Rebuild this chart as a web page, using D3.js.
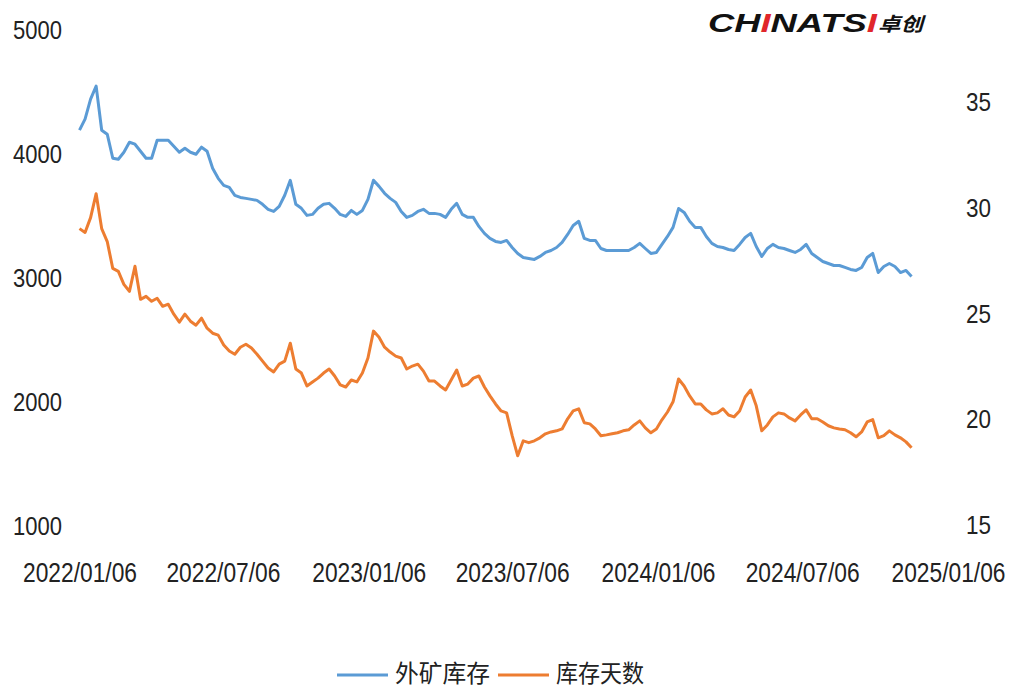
<!DOCTYPE html>
<html>
<head>
<meta charset="utf-8">
<script src="https://cdn.jsdelivr.net/npm/d3@7"></script>
<style>
  body { margin: 0; background: #fff; }
  svg { display: block; }
  .axis text { font-family: "Liberation Sans Narrow", "Arial Narrow", "Liberation Sans", sans-serif; fill: #222; }
</style>
</head>
<body>
<div id="chart"></div>
<script>
// weekly series, first week 2022/01/06
const startDate = new Date(2022, 0, 6);

const oreStock = [
  4192, 4281, 4442, 4547, 4192, 4160, 3966, 3958, 4014, 4095,
  4079, 4022, 3966, 3966, 4111, 4111, 4111, 4063, 4014, 4046,
  4014, 3998, 4055, 4022, 3885, 3804, 3747, 3731, 3667, 3650,
  3642, 3634, 3626, 3594, 3554, 3537, 3578, 3667, 3788, 3594,
  3562, 3505, 3513, 3562, 3594, 3602, 3562, 3513, 3497, 3545,
  3513, 3545, 3634, 3788, 3739, 3683, 3642, 3610, 3537, 3489,
  3505, 3537, 3554, 3521, 3521, 3513, 3489, 3554, 3602, 3513,
  3489, 3489, 3416, 3360, 3319, 3295, 3287, 3303, 3246, 3198,
  3166, 3158, 3150, 3174, 3206, 3222, 3246, 3287, 3351, 3424,
  3457, 3319, 3303, 3303, 3238, 3222, 3222, 3222, 3222, 3222,
  3246, 3279, 3238, 3198, 3206, 3271, 3335, 3408, 3560, 3529,
  3457, 3408, 3408, 3335, 3279, 3254, 3246, 3230, 3222, 3271,
  3327, 3360, 3254, 3174, 3238, 3271, 3246, 3238, 3222, 3206,
  3230, 3271, 3198, 3166, 3133, 3117, 3101, 3101, 3085, 3069,
  3061, 3085, 3166, 3198, 3044, 3093, 3117, 3093, 3044, 3061,
  3012
];

const stockDays = [
  29.02, 28.84, 29.54, 30.67, 29.02, 28.41, 27.14, 27.0, 26.39, 26.06,
  27.24, 25.68, 25.82, 25.59, 25.73, 25.35, 25.45, 24.98, 24.6, 24.98,
  24.65, 24.46, 24.79, 24.32, 24.08, 23.99, 23.52, 23.24, 23.09, 23.42,
  23.56, 23.38, 23.09, 22.76, 22.44, 22.25, 22.62, 22.76, 23.61, 22.39,
  22.2, 21.59, 21.78, 21.96, 22.2, 22.39, 22.06, 21.64, 21.54, 21.87,
  21.78, 22.2, 22.91, 24.18, 23.89, 23.42, 23.19, 23.0, 22.91, 22.39,
  22.53, 22.62, 22.29, 21.82, 21.82, 21.59, 21.4, 21.87, 22.34, 21.59,
  21.68, 21.96, 22.06, 21.54, 21.12, 20.74, 20.41, 20.32, 19.24, 18.29,
  19.0, 18.91, 19.0, 19.14, 19.33, 19.42, 19.47, 19.56, 20.04, 20.41,
  20.51, 19.85, 19.8, 19.56, 19.24, 19.28, 19.33, 19.38, 19.47, 19.52,
  19.75, 19.94, 19.61, 19.38, 19.56, 19.99, 20.36, 20.84, 21.92, 21.59,
  21.12, 20.74, 20.74, 20.46, 20.27, 20.32, 20.51, 20.22, 20.13, 20.41,
  21.07, 21.4, 20.65, 19.47, 19.75, 20.13, 20.32, 20.27, 20.08, 19.94,
  20.22, 20.46, 20.04, 20.04, 19.89, 19.71, 19.61, 19.56, 19.52, 19.38,
  19.19, 19.42, 19.89, 20.0, 19.14, 19.24, 19.47, 19.28, 19.14, 18.95,
  18.67
];

const weeks = oreStock.map((_, i) => d3.timeDay.offset(startDate, 7 * i));

const xTicks = ["2022/01/06", "2022/07/06", "2023/01/06", "2023/07/06",
  "2024/01/06", "2024/07/06", "2025/01/06"];
const leftTicks = [1000, 2000, 3000, 4000, 5000];
const rightTicks = [15, 20, 25, 30, 35];
const seriesNames = ["外矿库存", "库存天数"];
const colors = ["#5b9bd5", "#ed7d31"];

const width = 1011;
const height = 692;

const svg = d3.select("#chart")
  .append("svg")
  .attr("width", width)
  .attr("height", height);

const parseTick = d3.timeParse("%Y/%m/%d");

// scales
const x = d3.scaleTime()
  .domain([parseTick(xTicks[0]), parseTick(xTicks[xTicks.length - 1])])
  .range([79.5, 948]);

const yLeft = d3.scaleLinear().domain([1000, 5000]).range([526, 30]);
const yRight = d3.scaleLinear().domain([15, 35]).range([525.5, 102]);

// axes (labels only, no lines); narrow look via textLength
const xAxis = svg.append("g")
  .attr("class", "axis")
  .attr("transform", "translate(0,562)")
  .call(d3.axisBottom(x)
    .tickValues(xTicks.map(parseTick))
    .tickFormat(d3.timeFormat("%Y/%m/%d"))
    .tickSize(0)
    .tickPadding(0));
xAxis.selectAll("text")
  .style("font-size", "28px")
  .attr("dy", "0.71em")
  .attr("textLength", 114)
  .attr("lengthAdjust", "spacingAndGlyphs");

const leftAxis = svg.append("g")
  .attr("class", "axis")
  .attr("transform", "translate(62,0)")
  .call(d3.axisLeft(yLeft)
    .tickValues(leftTicks)
    .tickFormat(d3.format("d"))
    .tickSize(0)
    .tickPadding(0));
leftAxis.selectAll("text")
  .style("font-size", "26px")
  .attr("textLength", 49)
  .attr("lengthAdjust", "spacingAndGlyphs");

const rightAxis = svg.append("g")
  .attr("class", "axis")
  .attr("transform", "translate(966,0)")
  .call(d3.axisRight(yRight)
    .tickValues(rightTicks)
    .tickFormat(d3.format("d"))
    .tickSize(0)
    .tickPadding(0));
rightAxis.selectAll("text")
  .style("font-size", "26px")
  .attr("textLength", 25)
  .attr("lengthAdjust", "spacingAndGlyphs");

svg.selectAll(".axis .domain").remove();

// lines
const leftLine = d3.line()
  .x((d, i) => x(weeks[i]))
  .y((d) => yLeft(d));

const rightLine = d3.line()
  .x((d, i) => x(weeks[i]))
  .y((d) => yRight(d));

svg.append("path")
  .datum(oreStock)
  .attr("fill", "none")
  .attr("stroke", colors[0])
  .attr("stroke-width", 3)
  .attr("stroke-linejoin", "round")
  .attr("d", leftLine);

svg.append("path")
  .datum(stockDays)
  .attr("fill", "none")
  .attr("stroke", colors[1])
  .attr("stroke-width", 3)
  .attr("stroke-linejoin", "round")
  .attr("d", rightLine);

// legend
const legend = svg.append("g").attr("transform", "translate(337,674)");
const legendX = [0, 161];
seriesNames.forEach((name, i) => {
  const g = legend.append("g").attr("transform", `translate(${legendX[i]},0)`);
  g.append("line")
    .attr("x1", 0).attr("x2", 51)
    .attr("y1", 1).attr("y2", 1)
    .attr("stroke", colors[i])
    .attr("stroke-width", 3);
  g.append("text")
    .attr("x", 58)
    .attr("y", 0)
    .attr("dy", "0.35em")
    .style("font-family", "'Noto Sans CJK SC', sans-serif")
    .style("font-size", "24px")
    .attr("textLength", i === 0 ? 95 : 88)
    .attr("lengthAdjust", "spacingAndGlyphs")
    .attr("fill", "#222")
    .text(name);
});

// logo
const logo = svg.append("text")
  .attr("x", 708)
  .attr("y", 32)
  .attr("textLength", 169)
  .attr("lengthAdjust", "spacingAndGlyphs")
  .style("font-family", "'Liberation Sans', Arial, sans-serif")
  .style("font-size", "26px")
  .style("font-weight", "bold")
  .style("font-style", "italic");
[["CH", "#111"], ["I", "#e0262b"], ["NATS", "#111"], ["I", "#e0262b"]].forEach(([t, c]) => {
  logo.append("tspan").attr("fill", c).text(t);
});
svg.append("text")
  .attr("x", 878)
  .attr("y", 31)
  .attr("textLength", 45)
  .attr("lengthAdjust", "spacingAndGlyphs")
  .style("font-family", "'Noto Sans CJK SC', sans-serif")
  .style("font-size", "19px")
  .style("font-weight", "bold")
  .style("font-style", "italic")
  .attr("fill", "#111")
  .text("卓创");
</script>
</body>
</html>
